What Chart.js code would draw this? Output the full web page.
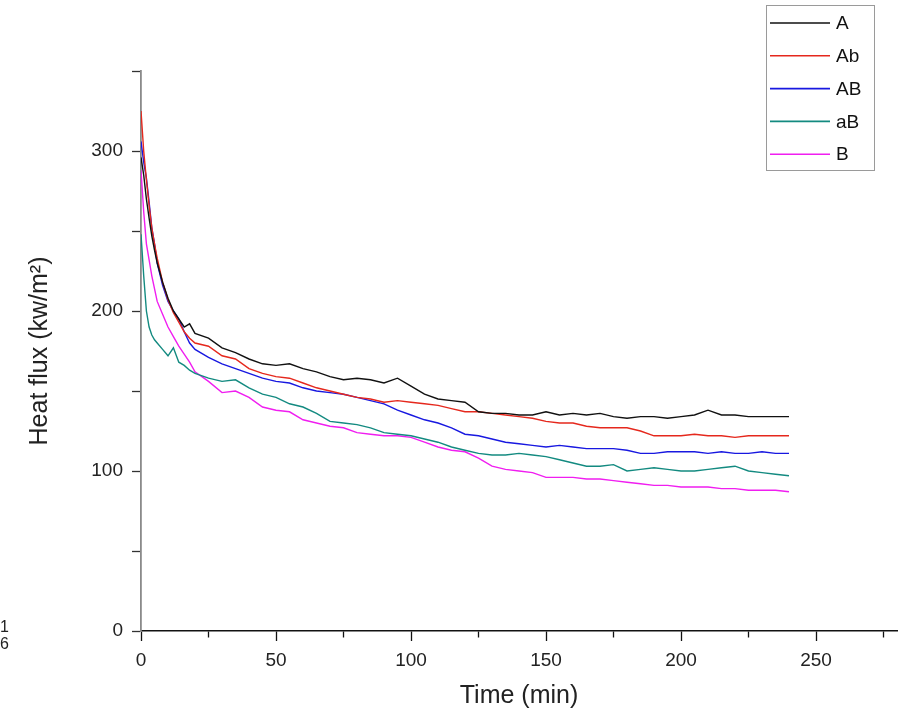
<!DOCTYPE html>
<html>
<head>
<meta charset="utf-8">
<script src="https://cdn.jsdelivr.net/npm/chart.js@4.4.0/dist/chart.umd.min.js"></script>
<style>
  body { margin: 0; background: #fff; }
  #wrap { position: relative; width: 907px; height: 717px; }
  .edge { position: absolute; left: 0; font: 16px "Liberation Sans", Arial, sans-serif; color: #222; }
</style>
</head>
<body>
<div id="wrap">
  <canvas id="myChart"></canvas>
  <div class="edge" style="top:618px">1</div>
  <div class="edge" style="top:635px">6</div>
</div>
<script>
// time axis (min)
const minutes = [0, 1, 2, 3, 4, 5, 6, 8, 10, 12, 14, 16, 18,
  20, 25, 30, 35, 40, 45, 50, 55, 60, 65, 70, 75, 80, 85, 90, 95, 100,
  105, 110, 115, 120, 125, 130, 135, 140, 145, 150, 155, 160, 165, 170, 175, 180,
  185, 190, 195, 200, 205, 210, 215, 220, 225, 230, 235, 240]

// heat flux (kw/m2) per sample
const fluxA = [296, 285, 270, 258, 247, 238, 230, 218, 208, 200, 195, 190, 192,
  186, 183, 177, 174, 170, 167, 166, 167, 164, 162, 159, 157, 158, 157, 155, 158, 153,
  148, 145, 144, 143, 137, 136, 136, 135, 135, 137, 135, 136, 135, 136, 134, 133,
  134, 134, 133, 134, 135, 138, 135, 135, 134, 134, 134, 134]
const fluxAb = [325, 300, 282, 266, 252, 242, 233, 218, 207, 199, 193, 187, 183,
  180, 178, 172, 170, 164, 161, 159, 158, 155, 152, 150, 148, 146, 145, 143, 144, 143,
  142, 141, 139, 137, 137, 136, 135, 134, 133, 131, 130, 130, 128, 127, 127, 127,
  125, 122, 122, 122, 123, 122, 122, 121, 122, 122, 122, 122]
const fluxAB = [306, 293, 283, 268, 252, 242, 230, 216, 206, 200, 195, 187, 180,
  176, 171, 167, 164, 161, 158, 156, 155, 152, 150, 149, 148, 146, 144, 142, 138, 135,
  132, 130, 127, 123, 122, 120, 118, 117, 116, 115, 116, 115, 114, 114, 114, 113,
  111, 111, 112, 112, 112, 111, 112, 111, 111, 112, 111, 111]
const fluxaB = [248, 222, 200, 190, 185, 182, 180, 176, 172, 177, 168, 166, 163,
  161, 158, 156, 157, 152, 148, 146, 142, 140, 136, 131, 130, 129, 127, 124, 123, 122,
  120, 118, 115, 113, 111, 110, 110, 111, 110, 109, 107, 105, 103, 103, 104, 100,
  101, 102, 101, 100, 100, 101, 102, 103, 100, 99, 98, 97]
const fluxB = [288, 262, 242, 232, 222, 214, 206, 198, 190, 184, 178, 173, 168,
  162, 156, 149, 150, 146, 140, 138, 137, 132, 130, 128, 127, 124, 123, 122, 122, 121,
  118, 115, 113, 112, 108, 103, 101, 100, 99, 96, 96, 96, 95, 95, 94, 93,
  92, 91, 91, 90, 90, 90, 89, 89, 88, 88, 88, 87]

const seriesNames = ['A', 'Ab', 'AB', 'aB', 'B']
const seriesColors = ['#111111', '#e5281d', '#1818e0', '#138a80', '#f01ef0']
const seriesValues = [fluxA, fluxAb, fluxAB, fluxaB, fluxB]

// tick positions
const xTicks = [0, 25, 50, 75, 100, 125, 150, 175, 200, 225, 250, 275]
const xLabelTicks = [0, 50, 100, 150, 200, 250]
const yTicks = [0, 50, 100, 150, 200, 250, 300, 350]
const yLabelTicks = [0, 100, 200, 300]

const FONT = '"Liberation Sans", Arial, sans-serif'

// Builds one dataset per series
function makeDatasets() {
  return seriesNames.map((name, k) => ({
    label: name,
    data: minutes.map((t, i) => ({x: t, y: seriesValues[k][i]})),
    borderColor: seriesColors[k],
    backgroundColor: seriesColors[k],
    borderWidth: 1.4,
    pointRadius: 0,
    tension: 0
  }))
}

// Legend box in the top right corner
const boxLegend = {
  id: 'boxLegend',
  afterDraw(chart) {
    const ctx = chart.ctx
    ctx.save()
    ctx.strokeStyle = '#9a9a9a'
    ctx.lineWidth = 1
    ctx.strokeRect(766.5, 5.5, 108, 165)
    ctx.font = '19px ' + FONT
    ctx.textBaseline = 'middle'
    ctx.fillStyle = '#111'
    chart.data.datasets.forEach((ds, i) => {
      const y = 23 + i * 32.8
      ctx.strokeStyle = ds.borderColor
      ctx.lineWidth = 1.6
      ctx.beginPath()
      ctx.moveTo(770, y)
      ctx.lineTo(830, y)
      ctx.stroke()
      ctx.fillText(ds.label, 836, y + 1)
    })
    ctx.restore()
  }
}

const ctx = document.getElementById('myChart').getContext('2d')
const myChart = new Chart(ctx, {
  type: 'line',
  data: { datasets: makeDatasets() },
  options: {
    responsive: true,
    maintainAspectRatio: false,
    animation: false,
    layout: { padding: { top: 71, right: 10, left: 0, bottom: 0 } },
    plugins: { legend: { display: false }, tooltip: { enabled: false } },
    scales: {
      x: {
        type: 'linear',
        min: 0,
        max: 280,
        afterBuildTicks: (scale) => { scale.ticks = xTicks.map(v => ({value: v})) },
        afterFit: (scale) => { scale.height = 86 },
        ticks: {
          autoSkip: false,
          maxRotation: 0,
          padding: 8,
          color: '#222',
          font: { family: FONT, size: 19 },
          callback: (v) => xLabelTicks.includes(v) ? String(v) : ''
        },
        grid: {
          drawOnChartArea: false,
          tickLength: 10,
          tickColor: '#111',
          tickWidth: 1.3,
          tickBorderDash: (c) => (c.tick && xLabelTicks.includes(c.tick.value)) ? [] : [6, 30]
        },
        border: { color: '#111', width: 1.5 },
        title: {
          display: true,
          text: 'Time (min)',
          color: '#222',
          font: { family: FONT, size: 25 },
          padding: { top: 0, bottom: 6 }
        }
      },
      y: {
        type: 'linear',
        min: 0,
        max: 350,
        afterBuildTicks: (scale) => { scale.ticks = yTicks.map(v => ({value: v})) },
        afterFit: (scale) => { scale.width = 141 },
        ticks: {
          autoSkip: false,
          padding: 9,
          color: '#222',
          font: { family: FONT, size: 19 },
          callback: (v) => yLabelTicks.includes(v) ? String(v) : ''
        },
        grid: {
          drawOnChartArea: false,
          tickLength: 9,
          tickColor: '#333',
          tickWidth: 1.3
        },
        border: { color: '#8a8a8a', width: 1.8 },
        title: {
          display: true,
          text: 'Heat flux (kw/m²)',
          color: '#222',
          font: { family: FONT, size: 25 },
          padding: { top: 25, bottom: 0 }
        }
      }
    }
  },
  plugins: [boxLegend]
})
</script>
</body>
</html>
